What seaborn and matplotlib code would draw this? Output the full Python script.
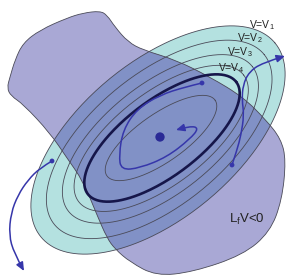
import numpy as np
import matplotlib
matplotlib.use("Agg")
import matplotlib.pyplot as plt
from matplotlib.path import Path
from matplotlib.patches import PathPatch, FancyArrowPatch
import seaborn as sns

# ---------------- data ----------------
# level-set ellipses (inner, thick V=c, V4, V3, V2, V1) in pixel coords
ell_names = ["inner", "thick", "V4", "V3", "V2", "V1"]
ell_cx = [161.0, 162.0, 161.2, 160.4, 159.2, 158.0]
ell_cy = [138.0, 138.0, 138.4, 138.9, 139.4, 140.0]
ell_a = [66.0, 93.0, 104.0, 117.0, 135.0, 152.0]
ell_b = [24.0, 38.0, 46.0, 55.0, 66.0, 78.0]
ell_ang = [35.0, 37.0, 37.5, 38.2, 39.0, 39.7]

# region where L_f V < 0 (purple blob outline)
blob_x = [100, 83, 67, 40, 23, 15, 10, 7, 11, 23, 50, 67, 83, 97, 107, 115, 130,
          156, 193, 243, 270, 282, 286, 281, 266, 243, 210, 176, 143, 128, 115, 107]
blob_y = [11, 13, 18, 30, 43, 60, 77, 88, 96, 104, 133, 158, 181, 215, 238, 249, 262,
          276, 272, 255, 232, 200, 160, 139, 120, 97, 77, 60, 50, 42, 27, 15]

# trajectories
traj_spiral_x = [202, 185, 160, 137, 123, 119, 121, 140, 167, 190, 199, 190, 176]
traj_spiral_y = [83, 87, 95, 109, 130, 155, 170, 168, 157, 139, 128, 126, 130]
traj_right_x = [232, 237, 241, 244, 242, 243, 249, 262, 285]
traj_right_y = [165, 150, 135, 115, 100, 85, 72, 63, 56]
traj_left_x = [52, 40, 28, 18, 11, 9, 14, 24]
traj_left_y = [161, 168, 180, 195, 213, 235, 253, 271]

# dots (start points and equilibrium)
dot_x = [202, 232, 52]
dot_y = [83, 165, 161]
eq_x = [160]
eq_y = [137]

# labels
lev_labels = ["V=V$_1$", "V=V$_2$", "V=V$_3$", "V=V$_4$"]
lev_lab_x = [249, 237, 227, 218]
lev_lab_y = [25, 38, 52, 68]
region_label = "L$_f$V<0"
region_lab_xy = (229, 219.5)

# ---------------- style ----------------
sns.set_theme(style="white")
plt.rcParams['font.family'] = ['Liberation Sans', 'DejaVu Sans']
plt.rcParams['mathtext.default'] = 'regular'

C_CYAN = "#b4e1e0"
C_PURPLE = "#a9a8d5"
C_OVER = "#8191c6"
C_EDGE = "#4a4a58"
C_THICK = "#16164a"
C_TRAJ = "#3636aa"


def ellipse_pts(i, n=300):
    t = np.linspace(0, 2 * np.pi, n)
    th = np.deg2rad(ell_ang[i])
    u = np.array([np.cos(th), -np.sin(th)])
    v = np.array([np.sin(th), np.cos(th)])
    x = ell_cx[i] + ell_a[i] * np.cos(t) * u[0] + ell_b[i] * np.sin(t) * v[0]
    y = ell_cy[i] + ell_a[i] * np.cos(t) * u[1] + ell_b[i] * np.sin(t) * v[1]
    return x, y


def smooth_path(xs, ys, closed=False):
    p = np.column_stack([xs, ys]).astype(float)
    n = len(p)
    verts, codes = [], []
    if closed:
        start = (p[-1] + p[0]) / 2
        verts.append(start); codes.append(Path.MOVETO)
        for i in range(n):
            nxt = p[(i + 1) % n]
            verts += [p[i], (p[i] + nxt) / 2]
            codes += [Path.CURVE3, Path.CURVE3]
        verts.append(start); codes.append(Path.CLOSEPOLY)
    else:
        verts.append(p[0]); codes.append(Path.MOVETO)
        for i in range(1, n - 1):
            end = p[i + 1] if i == n - 2 else (p[i] + p[i + 1]) / 2
            verts += [p[i], end]
            codes += [Path.CURVE3, Path.CURVE3]
    return Path(np.array(verts), codes)


fig = plt.figure(figsize=(2.86, 2.76), dpi=100)
ax = fig.add_axes([0, 0, 1, 1])

# outer V1 ellipse fill (cyan)
x1, y1 = ellipse_pts(5)
ax.fill(x1, y1, color=C_CYAN, lw=0, zorder=1)

# purple region
blob = smooth_path(blob_x, blob_y, closed=True)
ax.add_patch(PathPatch(blob, facecolor=C_PURPLE, edgecolor="none", zorder=2))

# overlap
ov = ax.fill(x1, y1, color=C_OVER, lw=0, zorder=3)[0]
clip = PathPatch(blob, transform=ax.transData, facecolor="none", edgecolor="none")
ax.add_patch(clip)
ov.set_clip_path(clip)

# outlines
ax.add_patch(PathPatch(blob, facecolor="none", edgecolor=C_EDGE, lw=0.6, zorder=4))
for i in [0, 2, 3, 4, 5]:
    x, y = ellipse_pts(i)
    ax.plot(x, y, color=C_EDGE, lw=0.6, zorder=5)
xt, yt = ellipse_pts(1)
ax.plot(xt, yt, color=C_THICK, lw=1.9, zorder=6)

# trajectories with arrowheads
for tx, ty in [(traj_spiral_x, traj_spiral_y), (traj_right_x, traj_right_y),
               (traj_left_x, traj_left_y)]:
    arr = FancyArrowPatch(path=smooth_path(tx, ty), arrowstyle="-|>,head_length=0.5,head_width=0.22",
                          mutation_scale=10, color=C_TRAJ, lw=1.1, zorder=7,
                          shrinkA=0, shrinkB=0)
    ax.add_patch(arr)

sns.scatterplot(x=dot_x, y=dot_y, ax=ax, s=12, color=C_TRAJ, edgecolor="none", zorder=8, legend=False)
sns.scatterplot(x=eq_x, y=eq_y, ax=ax, s=45, color="#2a2a96", edgecolor="none", zorder=8, legend=False)

for t, lx, ly in zip(lev_labels, lev_lab_x, lev_lab_y):
    ax.text(lx, ly, t, fontsize=7.5, color="#222222", ha="left", va="center", zorder=9)
ax.text(region_lab_xy[0], region_lab_xy[1], region_label, fontsize=9.5, color="#222222",
        ha="left", va="center", zorder=9)

ax.set_xlim(0, 286)
ax.set_ylim(276, 0)
ax.set_aspect("auto")
ax.axis("off")
fig.savefig("out.png", dpi=100)
